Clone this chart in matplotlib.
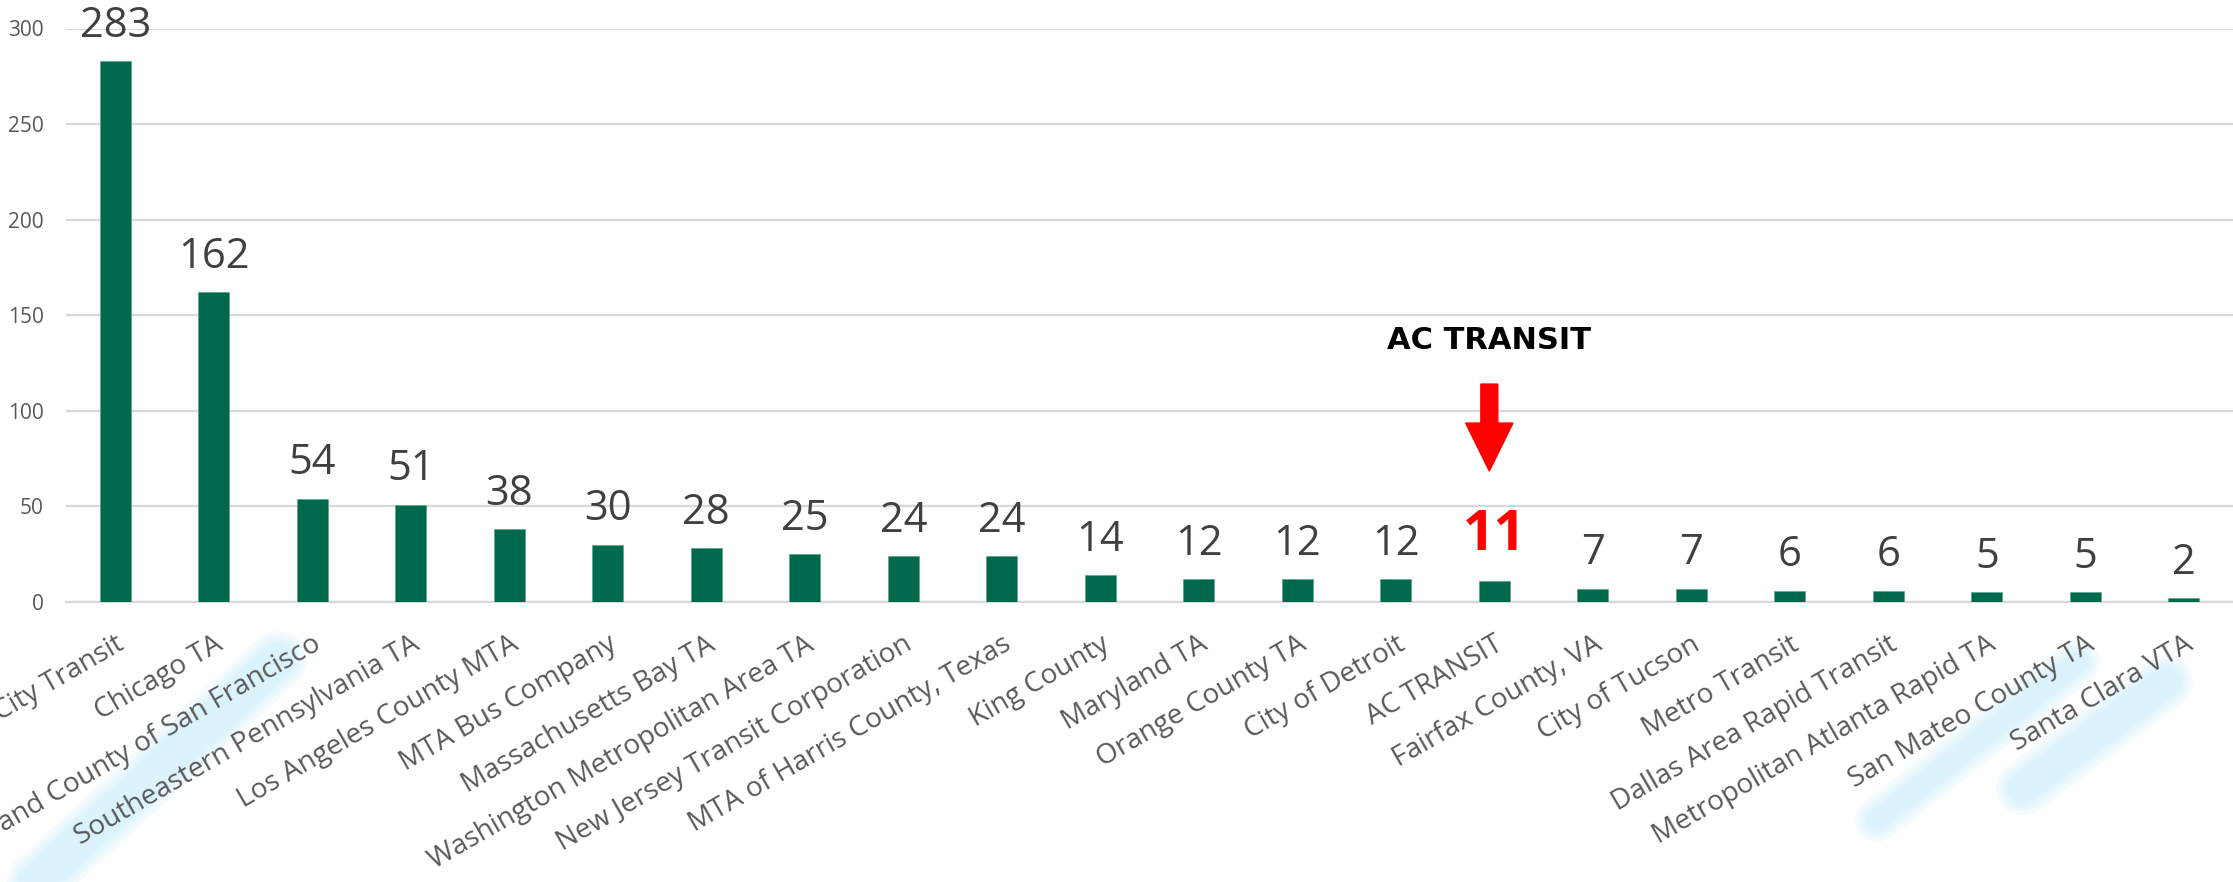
import matplotlib
matplotlib.use("Agg")
import matplotlib.pyplot as plt
from matplotlib.lines import Line2D
from matplotlib.patches import Polygon
from matplotlib import transforms

agencies = ["New York City Transit", "Chicago TA", "City and County of San Francisco",
            "Southeastern Pennsylvania TA", "Los Angeles County MTA", "MTA Bus Company",
            "Massachusetts Bay TA", "Washington Metropolitan Area TA",
            "New Jersey Transit Corporation", "MTA of Harris County, Texas", "King County",
            "Maryland TA", "Orange County TA", "City of Detroit", "AC TRANSIT",
            "Fairfax County, VA", "City of Tucson", "Metro Transit",
            "Dallas Area Rapid Transit", "Metropolitan Atlanta Rapid TA",
            "San Mateo County TA", "Santa Clara VTA"]
values = [283, 162, 54, 51, 38, 30, 28, 25, 24, 24, 14, 12, 12, 12, 11, 7, 7, 6, 6, 5, 5, 2]
highlight = "AC TRANSIT"
yticks = [0, 50, 100, 150, 200, 250, 300]

W, H = 2233, 882
DPI = 100
fig = plt.figure(figsize=(W / DPI, H / DPI), dpi=DPI)
FONT = ["Open Sans", "DejaVu Sans"]
plt.rcParams["font.family"] = FONT

ax = fig.add_axes([66 / W, 1 - 602 / H, 1 - 66 / W, (602 - 28.5) / H])
x = list(range(len(agencies)))
bar_color = "#00684C"
ax.bar(x, values, width=0.31, color=bar_color, edgecolor="#5fa88f", linewidth=0.6, zorder=3)
ax.set_xlim(-0.5, len(agencies) - 0.5)
ax.set_ylim(0, 300)
ax.set_yticks(yticks)
ax.set_yticklabels([str(v) for v in yticks], fontsize=15, color="#595959")
ax.yaxis.grid(True, color="#d9d9d9", linewidth=1.6, zorder=0)
ax.set_axisbelow(True)
for s in ["top", "right", "left"]:
    ax.spines[s].set_visible(False)
ax.spines["bottom"].set_color("#d9d9d9")
ax.spines["bottom"].set_linewidth(1.6)
ax.tick_params(axis="y", length=0, pad=16)
ax.tick_params(axis="x", length=0, pad=20.5)
ax.set_xticks(x)
ax.set_xticklabels(agencies, fontsize=20.2, color="#595959", rotation=30,
                   ha="right", va="top", rotation_mode="anchor")

# data labels
for xi, (name, v) in enumerate(zip(agencies, values)):
    if name == highlight:
        off = transforms.offset_copy(ax.transData, fig=fig, x=0, y=22, units="points")
        ax.text(xi, v, str(v), transform=off, ha="center", va="baseline",
                fontsize=40, fontweight="bold", color="#FF0000", clip_on=False)
    else:
        off = transforms.offset_copy(ax.transData, fig=fig, x=0, y=17.5, units="points")
        ax.text(xi, v, str(v), transform=off, ha="center", va="baseline",
                fontsize=30, color="#404040", clip_on=False)

# annotation arrow and label
hi = agencies.index(highlight)
cx = hi - 0.05
shaft, head = 0.086, 0.24
arrow = Polygon([(cx - shaft, 114), (cx + shaft, 114), (cx + shaft, 93.6),
                 (cx + head, 93.6), (cx, 68.5), (cx - head, 93.6),
                 (cx - shaft, 93.6)], closed=True, color="#FF0000", zorder=5)
ax.add_patch(arrow)
ax.text(cx, 137, "AC TRANSIT", ha="center", va="center", fontsize=22,
        fontweight="bold", color="#000000", family=["DejaVu Sans"])

# highlighter glows behind some labels
def px(xp, yp):
    return xp / W, 1 - yp / H

glows = [((0, 915), (278, 660), 32), ((1877, 820), (2078, 662), 18),
         ((2023, 788), (2166, 682), 28)]
for (p0, p1, wpx) in glows:
    a, b = px(*p0), px(*p1)
    for k, extra in enumerate([26, 18, 11, 5, 0]):
        lw = (wpx + extra) * 72 / DPI
        ln = Line2D([a[0], b[0]], [a[1], b[1]], transform=fig.transFigure,
                    color="#cdf0fc", alpha=0.22, linewidth=lw,
                    solid_capstyle="round", zorder=-1)
        fig.add_artist(ln)

fig.savefig("out.png", dpi=DPI, facecolor="white")
